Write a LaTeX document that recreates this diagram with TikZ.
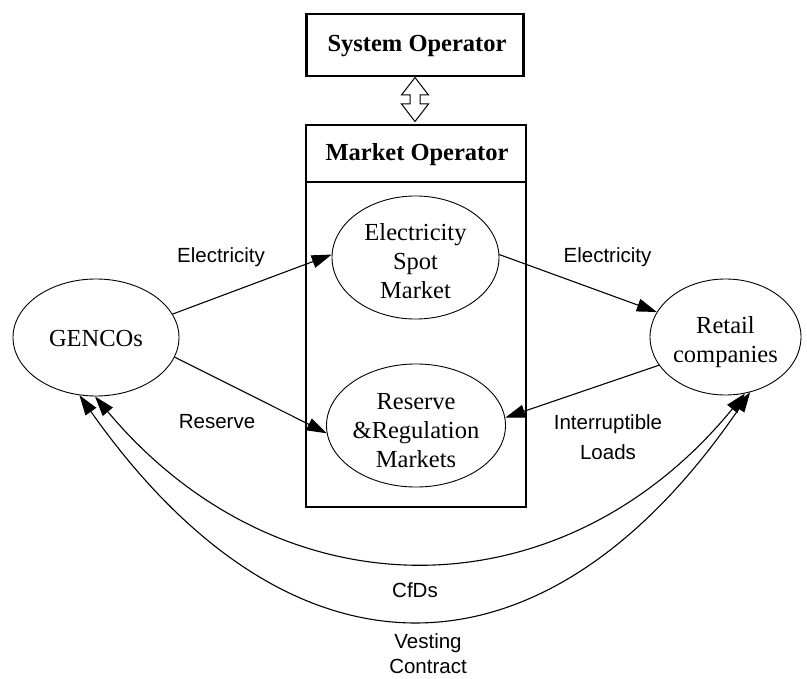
\documentclass[tikz,border=0pt]{standalone}
\usepackage{fontspec}
\setmainfont{Liberation Serif}
\newfontfamily\arialf{Liberation Sans}
\usetikzlibrary{shapes.geometric,arrows.meta}
\tikzset{
  ell/.style={draw, ellipse, line width=0.9pt, inner sep=0pt, align=center,
              font=\fontsize{24.5}{29}\selectfont},
  obox/.style={draw, line width=2.6pt, inner sep=0pt},
  ttl/.style={font=\fontsize{24.5}{29}\selectfont\bfseries},
  lbl/.style={font=\arialf\fontsize{20.5}{29.5}\selectfont, align=center, inner sep=0pt},
  arr/.style={line width=1.1pt, -{Triangle[length=20pt,width=13pt]}},
  darr/.style={line width=1.1pt, {Triangle[length=20pt,width=13pt]}-{Triangle[length=20pt,width=13pt]}},
}
\newcommand{\lowered}[2]{\raisebox{-#1}[\height][\depth]{\begin{tabular}{@{}c@{}}#2\end{tabular}}}
\begin{document}
\begin{tikzpicture}[x=1pt,y=-1pt]
\useasboundingbox (0,0) rectangle (807,679);
% boxes
\node[obox, minimum width=217pt, minimum height=62pt] (so) at (415,45) {};
\node[ttl] (sot) at (417,46) {System Operator};
\node[obox, minimum width=220pt, minimum height=382pt] (mo) at (416,316) {};
\node[ttl] (mot) at (417,154.5) {Market Operator};
\coordinate (sepL) at (306,182);
\coordinate (sepR) at (526,182);
\draw[line width=2.6pt] (sepL) -- (sepR);
% hollow double arrow
\draw[line width=1pt, fill=white] (415,77.5) -- (428.5,95) -- (420,95) -- (420,104) -- (428.5,104)
  -- (415,121.5) -- (401.5,104) -- (410,104) -- (410,95) -- (401.5,95) -- cycle;
% ellipses
\node[ell, minimum width=166pt, minimum height=117pt] (g) at (96,337.5) {\lowered{3pt}{GENCOs}};
\node[ell, minimum width=151pt, minimum height=116pt] (r) at (725.5,337) {\lowered{5pt}{Retail\\companies}};
\node[ell, minimum width=167pt, minimum height=115pt] (sp) at (415.5,257.5) {\lowered{6pt}{Electricity\\Spot\\Market}};
\node[ell, minimum width=167pt, minimum height=115pt] (rr) at (416,425.5) {\lowered{7pt}{Reserve\\\&Regulation\\Markets}};
% straight arrows
\draw[arr] (g.17) -- (sp.178);
\draw[arr] (g.-14) -- (rr.185);
\draw[arr] (sp.2) -- (r.160.7);
\draw[arr] (r.203) -- (rr.5.4);
% curved arrows
\draw[darr] (g.269) .. controls (280,617) and (562,617) .. (r.289);
\draw[darr] (g.254) .. controls (290,694) and (544,694) .. (r.294);
% labels
\node[lbl] (l1) at (221,257) {Electricity};
\node[lbl] (l2) at (217,422) {Reserve};
\node[lbl] (l3) at (607.5,257) {Electricity};
\node[lbl] (l4) at (608,437) {Interruptible\\Loads};
\node[lbl] (l5) at (415,590) {CfDs};
\node[lbl, font=\arialf\fontsize{20.5}{25}\selectfont] (l6) at (428,654) {Vesting\\Contract};
\end{tikzpicture}
\end{document}
